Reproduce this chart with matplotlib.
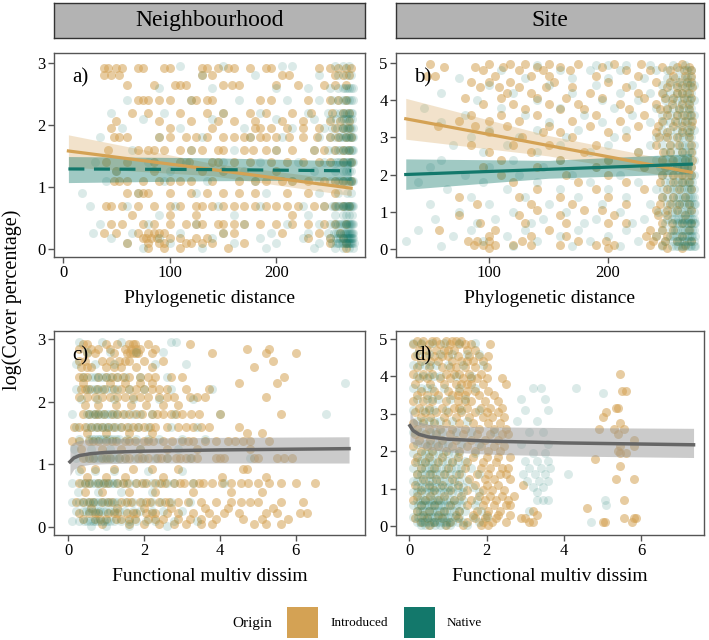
import numpy as np
import matplotlib
matplotlib.use("Agg")
import matplotlib.pyplot as plt
from matplotlib.patches import Rectangle

plt.rcParams['font.family'] = ['Liberation Serif', 'DejaVu Serif']

INTRO = '#D4A254'
NATIVE = '#13786B'
GREY_LINE = '#666666'

# ---- scatter data: (log cover, [x values]) rows ----
# panel a) neighbourhood, phylogenetic distance
a_intro_rows = [
    (2.92, [38, 42, 50, 55, 70, 75, 95, 100, 130, 135, 145, 155, 160, 175, 190, 195, 240, 250, 258, 265, 270]),
    (2.8, [38, 45, 52, 130, 140, 205, 212, 255, 262, 268]),
    (2.65, [60, 85, 105, 110, 115, 150, 158, 165, 200, 220, 245, 255, 265]),
    (2.4, [70, 75, 80, 90, 100, 120, 125, 135, 140, 185, 195, 230, 250, 258, 265]),
    (2.2, [65, 80, 110, 135, 150, 175, 190, 215, 232, 252, 262, 268]),
    (2.07, [50, 90, 120, 145, 160, 180, 205, 225, 250, 260, 268]),
    (1.95, [45, 100, 140, 180, 185, 195, 210, 225, 240, 255, 262, 268]),
    (1.8, [48, 52, 60, 90, 100, 115, 125, 135, 150, 160, 170, 175, 185, 190, 200, 212, 225, 238, 250, 258, 265, 270]),
    (1.6, [42, 70, 80, 85, 95, 110, 120, 130, 145, 150, 170, 178, 190, 200, 215, 235, 245, 255, 262, 268]),
    (1.4, [40, 60, 85, 110, 118, 140, 145, 160, 175, 195, 210, 225, 240, 250, 262, 270]),
    (1.25, [50, 85, 130, 150, 200]),
    (1.1, [48, 52, 60, 75, 90, 100, 110, 120, 140, 165, 180, 190, 205, 215, 230, 245, 255, 262, 270]),
    (0.9, [60, 70, 75, 80, 100, 120, 135, 150, 165, 180, 210, 230, 255]),
    (0.7, [40, 45, 55, 70, 85, 100, 110, 125, 130, 140, 150, 160, 170, 180, 190, 200, 210, 220, 235, 245, 255, 262, 268]),
    (0.55, [65, 100, 125, 215]),
    (0.4, [45, 55, 75, 85, 100, 115, 125, 130, 145, 150, 160, 170, 185, 200, 215, 230, 245, 255, 265]),
    (0.25, [38, 50, 70, 80, 85, 90, 95, 150, 160, 205, 240, 260]),
    (0.18, [75, 78, 82, 88, 100, 110, 125, 135, 230, 250, 262]),
    (0.1, [60, 80, 90, 95, 115, 120, 130, 140, 170, 250, 265]),
    (0.02, [80, 95, 110, 155, 265]),
]
a_native_rows = [
    (2.95, [110, 150, 205, 215, 255, 262, 268]),
    (2.8, [130, 180, 240, 258, 265, 270]),
    (2.6, [90, 140, 200, 230, 250, 258, 262, 266, 270, 264, 268, 272]),
    (2.4, [60, 120, 165, 210, 240, 252, 258, 262, 266, 270, 264, 268, 272]),
    (2.2, [45, 95, 150, 185, 230, 248, 255, 260, 264, 268, 271, 262, 266, 270]),
    (2.1, [75, 140, 200, 235, 250, 256, 261, 265, 269, 263, 267, 271]),
    (1.95, [55, 110, 170, 215, 245, 252, 257, 261, 264, 267, 270, 262, 266, 269, 272]),
    (1.8, [35, 90, 130, 175, 205, 240, 250, 255, 259, 262, 265, 268, 271, 260, 264, 267, 270, 272]),
    (1.6, [65, 120, 160, 200, 235, 248, 254, 258, 262, 265, 268, 271, 260, 264, 267, 270, 272]),
    (1.4, [30, 80, 115, 150, 185, 220, 245, 252, 256, 260, 263, 266, 268, 270, 272, 258, 262, 265, 269, 271]),
    (1.25, [50, 100, 170, 235, 255, 262, 268, 265, 270]),
    (1.1, [40, 95, 135, 180, 215, 240, 250, 255, 259, 262, 265, 268, 270, 272, 258, 261, 264, 267, 269, 271]),
    (0.9, [18, 70, 125, 190, 240, 258, 266, 270]),
    (0.7, [25, 60, 105, 145, 185, 225, 245, 252, 256, 259, 262, 264, 266, 268, 270, 272, 254, 258, 261, 263, 265, 267, 269, 271]),
    (0.55, [90, 160, 230, 255, 262, 268, 265, 271]),
    (0.4, [35, 80, 125, 170, 210, 240, 250, 254, 258, 261, 264, 266, 268, 270, 272, 256, 260, 263, 265, 267, 269, 271]),
    (0.25, [28, 65, 110, 150, 195, 230, 248, 254, 258, 261, 264, 266, 268, 270, 272, 256, 260, 263, 265, 267, 269, 271]),
    (0.18, [45, 90, 140, 185, 225, 250, 256, 260, 263, 266, 268, 270, 272, 258, 262, 265, 267, 269, 271]),
    (0.1, [60, 100, 160, 200, 240, 252, 256, 259, 262, 265, 267, 269, 271, 273, 258, 261, 264, 266, 268, 270]),
    (0.02, [75, 130, 190, 235, 255, 262, 268, 272]),
]

# panel b) site, phylogenetic distance
b_intro_rows = [
    (4.97, [50, 100, 118, 130, 150, 175, 205, 228, 262]),
    (4.88, [62, 88, 112, 140, 160, 195, 245, 258, 268]),
    (4.8, [95, 125, 145, 168, 215, 235, 252, 270, 264]),
    (4.65, [48, 55, 105, 135, 150, 190, 225, 255, 265, 270]),
    (4.5, [85, 100, 118, 155, 200, 240, 260, 270, 252, 266]),
    (4.35, [92, 108, 125, 148, 170, 215, 250, 265, 258, 271]),
    (4.2, [115, 135, 185, 225, 245, 258, 268, 262]),
    (4.05, [80, 110, 140, 165, 195, 230, 255, 270, 248, 264]),
    (3.9, [95, 120, 150, 175, 210, 240, 262, 254, 268]),
    (3.75, [130, 160, 180, 218, 250, 268, 244, 260]),
    (3.6, [85, 110, 140, 190, 230, 258, 270, 250, 264]),
    (3.45, [75, 100, 125, 170, 210, 245, 265, 256, 271]),
    (3.3, [57, 88, 115, 150, 185, 225, 255, 270, 242, 262]),
    (3.15, [100, 145, 160, 200, 240, 262, 250, 268]),
    (3.0, [128, 170, 215, 250, 268, 243, 258]),
    (2.8, [85, 120, 150, 190, 240, 260, 252, 270]),
    (2.6, [100, 135, 180, 225, 252, 270, 246, 262]),
    (2.4, [110, 160, 200, 245, 265, 255, 271]),
    (2.2, [95, 140, 190, 230, 258, 270, 248, 264]),
    (2.0, [110, 165, 200, 245, 262, 255, 270]),
    (1.8, [120, 175, 215, 255, 268, 244, 262]),
    (1.6, [140, 190, 230, 260, 270, 250]),
    (1.4, [75, 125, 160, 200, 245, 265, 255]),
    (1.2, [90, 135, 170, 215, 252, 268, 244, 260]),
    (1.05, [140, 180, 195, 240, 258, 270, 250]),
    (0.9, [75, 125, 160, 205, 250, 265, 242]),
    (0.7, [92, 130, 165, 200, 215, 245, 262, 270, 254]),
    (0.5, [58, 105, 150, 235, 255, 268, 245]),
    (0.35, [100, 135, 165, 240, 250, 262, 232]),
    (0.2, [82, 90, 100, 128, 175, 198, 238, 258, 270, 248]),
    (0.1, [87, 95, 105, 120, 135, 160, 190, 205, 245, 265, 235]),
    (0.02, [100, 200, 250, 262]),
]
b_native_rows = [
    (4.95, [140, 190, 200, 215, 235, 255, 265]),
    (4.8, [110, 160, 185, 210, 240, 260, 270, 250, 266]),
    (4.6, [75, 130, 170, 200, 230, 250, 262, 270, 256, 266]),
    (4.4, [100, 150, 190, 220, 245, 258, 266, 272, 252, 262, 269]),
    (4.2, [60, 120, 170, 210, 235, 252, 262, 270, 246, 258, 266]),
    (4.0, [90, 140, 195, 225, 248, 258, 266, 272, 254, 262, 269]),
    (3.8, [45, 110, 160, 205, 240, 255, 263, 270, 250, 260, 267]),
    (3.6, [80, 130, 180, 220, 245, 258, 266, 272, 252, 262, 269]),
    (3.4, [60, 150, 195, 235, 252, 262, 270, 246, 258, 266]),
    (3.2, [100, 140, 175, 215, 245, 258, 266, 272, 252, 262, 269]),
    (3.0, [85, 125, 165, 205, 240, 255, 263, 270, 248, 260, 267]),
    (2.8, [70, 115, 160, 200, 235, 252, 262, 268, 272, 245, 258, 265]),
    (2.6, [95, 140, 185, 225, 248, 258, 265, 271, 252, 262, 268]),
    (2.4, [60, 120, 160, 200, 240, 254, 262, 268, 272, 248, 258, 265]),
    (2.2, [50, 100, 145, 190, 230, 250, 258, 264, 270, 244, 254, 262, 267]),
    (2.0, [80, 125, 170, 210, 245, 255, 262, 268, 272, 250, 259, 265, 270]),
    (1.8, [40, 95, 140, 185, 225, 248, 256, 262, 267, 271, 252, 259, 264, 269]),
    (1.6, [65, 115, 160, 200, 240, 252, 258, 264, 268, 272, 246, 255, 261, 266, 270]),
    (1.4, [85, 130, 175, 215, 245, 255, 260, 265, 269, 272, 250, 258, 263, 267, 271]),
    (1.2, [50, 100, 150, 195, 235, 250, 257, 262, 266, 270, 273, 254, 260, 264, 268, 272]),
    (1.0, [75, 120, 165, 210, 242, 254, 259, 264, 268, 272, 248, 256, 262, 266, 270]),
    (0.8, [55, 105, 145, 190, 230, 250, 256, 261, 265, 269, 272, 254, 259, 263, 267, 271]),
    (0.7, [90, 135, 180, 220, 248, 255, 260, 264, 267, 270, 273, 258, 262, 266, 269, 272]),
    (0.5, [40, 85, 130, 175, 215, 245, 253, 258, 263, 267, 271, 256, 261, 265, 269, 272]),
    (0.35, [70, 115, 160, 200, 240, 252, 257, 262, 266, 270, 273, 255, 260, 264, 268, 271]),
    (0.2, [30, 95, 140, 185, 225, 248, 255, 260, 264, 268, 272, 258, 262, 266, 270]),
    (0.08, [60, 120, 170, 210, 245, 254, 259, 263, 267, 270, 273, 257, 261, 265, 269, 272]),
]

# panel c) neighbourhood, functional multivariate dissimilarity
c_intro_rows = [
    (2.93, [0.4, 0.5, 1.0, 1.3, 1.6, 1.7, 1.75, 2.1, 3.2]),
    (2.85, [0.3, 0.6, 0.8, 1.1, 1.5, 1.65, 1.8, 1.9, 2.3, 4.7, 5.3]),
    (2.78, [0.5, 0.7, 1.2, 1.55, 1.7, 1.85, 2.2, 3.8, 5.2, 6.0, 1.62, 1.78]),
    (2.65, [0.3, 0.45, 0.9, 1.35, 1.5, 2.0, 2.5, 5.4, 1.1, 1.6]),
    (2.55, [0.35, 0.6, 1.2, 1.4, 1.8, 2.2, 4.9, 0.5, 1.0]),
    (2.4, [0.3, 0.5, 0.8, 1.0, 1.3, 1.6, 2.1, 2.3, 2.7, 3.0, 5.7, 0.4, 1.15, 1.45, 1.9]),
    (2.3, [0.4, 1.1, 1.5, 1.9, 2.2, 4.5, 5.5]),
    (2.2, [0.35, 0.55, 0.75, 1.2, 1.4, 1.8, 2.0, 2.2, 2.6, 3.1, 3.7, 0.45, 0.95, 1.6, 2.4]),
    (2.08, [0.3, 0.5, 0.9, 1.1, 1.3, 1.7, 1.9, 2.4, 2.8, 3.2, 3.6, 5.2, 0.7, 1.5, 2.1, 2.6, 3.4]),
    (1.95, [0.45, 0.8, 1.25, 1.65, 2.05, 2.5, 2.9]),
    (1.8, [0.4, 0.55, 0.7, 0.95, 1.15, 1.45, 1.6, 1.95, 2.2, 2.5, 2.7, 3.0, 3.25, 3.45, 4.0, 5.6, 0.8, 1.3, 1.8, 2.35, 2.85]),
    (1.6, [0.15, 0.3, 0.6, 0.9, 1.2, 1.4, 1.7, 2.0, 2.3, 2.6, 2.9, 3.1, 3.3, 3.5, 3.7, 4.5, 0.45, 0.75, 1.05, 1.55, 1.85, 2.15]),
    (1.5, [0.5, 1.0, 1.6, 2.2, 4.7, 5.1]),
    (1.38, [0.1, 0.3, 0.55, 0.8, 1.0, 1.25, 1.5, 1.75, 2.0, 2.25, 2.5, 2.75, 3.0, 3.3, 3.6, 3.9, 4.2, 4.4, 4.6, 4.8, 5.3, 0.65, 1.15, 1.6, 2.1, 3.15]),
    (1.25, [0.35, 0.9, 1.4, 1.9, 2.6, 3.4, 4.8]),
    (1.1, [0.4, 0.65, 0.9, 1.1, 1.35, 1.6, 1.85, 2.1, 2.35, 2.6, 2.85, 3.1, 3.4, 3.9, 4.0, 4.1, 4.9, 5.0, 5.5, 5.7, 5.9, 0.55, 1.0, 1.5, 1.95, 2.45, 2.95, 3.25]),
    (0.92, [0.35, 0.7, 1.2, 1.7, 2.2, 2.9, 4.6, 4.7]),
    (0.8, [0.5, 1.0, 1.5, 2.5, 4.05, 5.2]),
    (0.7, [0.3, 0.55, 0.8, 1.05, 1.3, 1.55, 1.8, 2.05, 2.3, 2.55, 2.8, 3.05, 3.3, 3.55, 3.8, 4.05, 4.3, 4.55, 4.75, 5.0, 5.3, 5.6, 6.0, 6.5, 0.45, 0.95, 1.45, 1.95, 2.45, 2.95, 3.45]),
    (0.55, [0.45, 0.9, 1.6, 2.3, 3.3, 4.3, 5.1]),
    (0.4, [0.2, 0.4, 0.65, 0.9, 1.15, 1.4, 1.65, 1.9, 2.15, 2.4, 2.65, 2.9, 3.15, 3.5, 3.9, 4.3, 4.55, 4.8, 5.0, 5.6, 6.2, 0.55, 1.05, 1.55, 2.05, 2.55]),
    (0.3, [0.6, 1.3, 2.0, 2.7, 3.6, 4.2, 5.4]),
    (0.22, [0.3, 0.55, 0.8, 1.05, 1.3, 1.55, 1.8, 2.05, 2.3, 2.6, 2.9, 3.3, 3.7, 4.1, 4.5, 5.2, 5.5, 6.1, 6.3, 0.7, 1.2, 1.7, 2.2]),
    (0.12, [0.4, 0.7, 1.0, 1.4, 1.75, 2.1, 2.5, 2.9, 3.2, 3.5, 3.9, 4.6, 5.1, 5.8, 0.85, 1.25, 1.6, 2.3]),
    (0.04, [0.9, 1.6, 2.0, 2.4, 2.8, 3.1, 3.5, 3.8, 4.9, 5.2, 5.6]),
]
c_native_rows = [
    (2.95, [0.3, 0.9, 1.4, 2.7, 2.85]),
    (2.8, [0.5, 1.1, 1.8, 2.5]),
    (2.6, [0.2, 0.7, 1.2, 2.3, 3.1]),
    (2.4, [0.4, 0.7, 0.9, 1.1, 1.5, 2.6, 0.6, 0.8, 1.0, 1.3, 1.9]),
    (2.3, [7.3]),
    (2.2, [0.2, 0.6, 0.8, 1.0, 1.3, 2.0, 2.7, 3.8, 0.5, 0.7, 0.9, 1.15, 1.6]),
    (2.05, [0.35, 0.75, 1.2, 1.7, 2.4, 3.3]),
    (1.8, [0.1, 0.5, 0.65, 0.8, 0.95, 1.1, 1.3, 1.7, 2.2, 2.8, 4.0, 6.8, 0.55, 0.72, 0.88, 1.02, 1.2, 1.5, 1.9]),
    (1.6, [0.2, 0.5, 0.7, 0.9, 1.05, 1.25, 1.6, 2.1, 2.7, 3.4, 0.6, 0.8, 0.98, 1.15, 1.4, 1.85]),
    (1.4, [0.3, 0.55, 0.7, 0.85, 1.0, 1.15, 1.35, 1.8, 2.4, 3.0, 3.6, 0.62, 0.78, 0.92, 1.08, 1.25, 1.55, 2.1]),
    (1.25, [0.15, 0.6, 1.1, 1.9, 2.9]),
    (1.1, [0.2, 0.45, 0.65, 0.8, 0.95, 1.1, 1.25, 1.5, 2.0, 2.6, 3.2, 4.8, 0.55, 0.72, 0.88, 1.02, 1.18, 1.35, 1.75, 2.3]),
    (0.9, [0.3, 0.7, 1.2, 2.1, 3.0]),
    (0.7, [0.1, 0.35, 0.55, 0.7, 0.85, 1.0, 1.15, 1.3, 1.6, 2.0, 2.4, 2.8, 3.3, 4.1, 0.45, 0.62, 0.78, 0.92, 1.08, 1.22, 1.45, 1.8, 2.2, 2.6]),
    (0.55, [0.25, 0.8, 1.4, 2.2]),
    (0.4, [0.1, 0.3, 0.5, 0.65, 0.8, 0.95, 1.1, 1.3, 1.7, 2.2, 2.7, 3.2, 0.4, 0.58, 0.72, 0.88, 1.02, 1.2, 1.5, 1.95, 2.45]),
    (0.25, [0.2, 0.4, 0.55, 0.7, 0.85, 1.0, 1.2, 1.5, 1.9, 2.5, 3.0, 0.48, 0.62, 0.78, 0.92, 1.1, 1.35, 1.7, 2.2]),
    (0.1, [0.1, 0.3, 0.5, 0.65, 0.8, 0.95, 1.1, 1.4, 1.8, 2.3, 2.8, 3.4, 0.42, 0.58, 0.72, 0.88, 1.02, 1.2, 1.6, 2.05]),
    (0.02, [0.6, 1.0, 1.6, 2.6]),
]

# panel d) site, functional multivariate dissimilarity
d_intro_rows = [
    (4.95, [0.2, 0.35, 0.6, 0.95, 1.2, 1.35, 0.7, 1.1]),
    (4.85, [0.1, 0.3, 0.5, 0.8, 1.05, 1.45, 1.6, 2.1, 1.3]),
    (4.7, [0.25, 0.45, 0.7, 0.9, 1.15, 1.5, 1.7, 1.0]),
    (4.55, [0.15, 0.4, 0.65, 1.0, 1.25, 1.55, 1.8, 2.05, 0.85]),
    (4.4, [0.3, 0.55, 0.75, 1.1, 1.35, 1.65, 1.9, 1.5]),
    (4.25, [0.2, 0.5, 0.85, 1.2, 1.45, 1.7, 2.0, 1.05]),
    (4.05, [0.1, 0.35, 0.6, 0.95, 1.3, 1.55, 1.85, 5.45, 1.15]),
    (3.95, [0.25, 0.45, 0.8, 1.05, 1.4, 1.75, 2.0, 2.4, 1.6]),
    (3.8, [0.15, 0.55, 0.9, 1.2, 1.5, 1.6, 1.9, 2.5, 1.35]),
    (3.6, [0.3, 0.65, 1.0, 1.3, 1.7, 2.05, 5.5, 5.6, 1.5]),
    (3.5, [0.2, 0.45, 0.75, 1.1, 1.45, 1.8, 2.2, 1.25]),
    (3.35, [0.1, 0.35, 0.6, 0.95, 1.25, 1.6, 1.95, 2.3, 1.45]),
    (3.15, [0.25, 0.5, 0.85, 1.15, 1.5, 1.85, 2.1, 2.4, 5.4, 5.35, 1.3]),
    (3.05, [0.15, 0.4, 0.7, 1.0, 1.35, 1.7, 2.0, 2.3, 5.1]),
    (2.9, [0.3, 0.55, 0.9, 1.2, 1.55, 1.9, 2.15, 2.45, 5.0]),
    (2.75, [0.1, 0.35, 0.65, 0.95, 1.3, 1.65, 2.05, 2.35, 5.45]),
    (2.6, [0.2, 0.5, 0.8, 1.1, 1.45, 1.8, 2.2, 2.5, 5.55, 5.3, 4.9]),
    (2.45, [0.15, 0.4, 0.7, 1.05, 1.4, 1.75, 2.1, 2.4, 2.55, 5.4]),
    (2.3, [0.25, 0.55, 0.85, 1.2, 1.6, 1.95, 2.3, 5.8]),
    (2.15, [0.1, 0.45, 0.75, 1.1, 1.5, 1.85, 2.2, 2.45, 5.8, 5.45]),
    (2.0, [0.3, 0.6, 0.95, 1.3, 1.7, 2.05, 2.35, 5.4]),
    (1.95, [5.6, 5.45]),
    (1.85, [0.2, 0.5, 0.85, 1.25, 1.65, 2.0, 2.3, 2.6]),
    (1.8, [4.8]),
    (1.7, [0.15, 0.4, 0.75, 1.1, 1.5, 1.9, 2.25]),
    (1.6, [5.45]),
    (1.55, [0.3, 0.65, 1.0, 1.45, 1.85, 2.1, 2.4, 2.55]),
    (1.4, [0.2, 0.55, 0.9, 1.3, 1.75, 2.05, 2.35, 2.5]),
    (1.25, [0.35, 0.7, 1.1, 1.55, 1.95, 2.2, 2.6, 5.35, 5.8]),
    (1.1, [0.15, 0.5, 0.85, 1.25, 1.7, 2.0, 2.3, 2.95]),
    (0.95, [0.3, 0.65, 1.05, 1.5, 1.9, 2.15, 2.45]),
    (0.8, [0.2, 0.55, 0.9, 1.35, 1.8, 2.1, 2.4, 2.7]),
    (0.7, [0.1, 0.4, 0.75, 1.15, 1.6, 1.95, 2.25, 2.55, 5.55]),
    (0.55, [0.3, 0.65, 1.05, 1.5, 1.9, 2.2, 2.5, 2.6]),
    (0.47, [4.6]),
    (0.4, [0.2, 0.5, 0.9, 1.3, 1.75, 2.05, 2.35, 3.2]),
    (0.3, [0.35, 0.75, 1.2, 1.65, 2.0, 2.3, 2.6, 3.3]),
    (0.22, [0.15, 0.45, 0.85, 1.25, 1.7, 1.95, 2.25, 2.9, 3.0, 5.55, 5.8, 5.85]),
    (0.1, [0.3, 0.65, 1.05, 1.5, 1.9, 2.15, 2.5, 3.1, 3.2, 5.0, 5.05, 5.75]),
    (0.03, [0.5, 0.95, 1.4, 1.85, 2.05]),
]
d_native_rows = [
    (4.9, [0.1, 0.3, 0.6, 0.9, 1.3, 1.7]),
    (4.6, [0.2, 0.5, 0.8, 1.1, 1.5, 1.8]),
    (4.3, [0.1, 0.4, 0.7, 1.0, 1.4, 1.9, 0.25, 0.55]),
    (4.0, [0.2, 0.5, 0.8, 1.2, 1.6, 0.35, 0.65]),
    (3.7, [0.1, 0.3, 0.6, 0.9, 1.3, 1.7, 3.2, 3.4, 4.3, 0.45]),
    (3.55, [5.0]),
    (3.4, [0.2, 0.45, 0.75, 1.05, 1.45, 2.9, 3.5, 0.6]),
    (3.1, [0.1, 0.35, 0.65, 0.95, 1.35, 1.8, 3.0, 3.6, 0.5]),
    (2.8, [0.2, 0.5, 0.8, 1.1, 1.5, 2.8, 3.3, 0.35, 0.65]),
    (2.5, [0.1, 0.3, 0.55, 0.85, 1.2, 1.6, 2.2, 3.1, 3.45, 0.7]),
    (2.2, [0.2, 0.4, 0.7, 1.0, 1.35, 1.8, 2.9, 3.6, 0.55, 0.85]),
    (1.95, [0.1, 0.3, 0.5, 0.75, 1.0, 1.3, 1.7, 3.2, 3.5, 0.4, 0.62, 0.88, 1.15]),
    (1.75, [0.2, 0.4, 0.6, 0.85, 1.1, 1.45, 3.0, 3.3, 3.6, 0.3, 0.5, 0.72, 0.98, 1.25]),
    (1.55, [0.1, 0.3, 0.5, 0.7, 0.95, 1.2, 1.6, 3.1, 3.4, 3.65, 0.4, 0.6, 0.82, 1.08, 1.35]),
    (1.4, [0.2, 0.4, 0.6, 0.8, 1.05, 1.35, 1.8, 2.95, 3.25, 3.5, 4.1, 0.3, 0.5, 0.7, 0.92, 1.2]),
    (1.2, [0.1, 0.3, 0.5, 0.7, 0.9, 1.15, 1.5, 3.05, 3.35, 3.6, 0.2, 0.4, 0.6, 0.8, 1.02, 1.3]),
    (1.05, [0.2, 0.4, 0.6, 0.8, 1.0, 1.25, 1.65, 3.2, 3.45, 0.3, 0.5, 0.7, 0.9, 1.12, 1.4]),
    (0.9, [0.1, 0.3, 0.5, 0.7, 0.9, 1.1, 1.4, 1.8, 3.3, 0.2, 0.4, 0.6, 0.8, 1.0, 1.25]),
    (0.7, [0.2, 0.35, 0.5, 0.65, 0.8, 0.95, 1.15, 1.4, 1.75, 3.3, 3.45, 3.6, 5.05, 0.28, 0.42, 0.58, 0.72, 0.88, 1.05, 1.28]),
    (0.55, [0.1, 0.3, 0.45, 0.6, 0.75, 0.9, 1.1, 1.35, 1.7, 5.1, 0.22, 0.38, 0.52, 0.68, 0.82, 1.0, 1.22]),
    (0.4, [0.2, 0.35, 0.5, 0.65, 0.8, 0.95, 1.15, 1.45, 1.85, 3.1, 0.28, 0.42, 0.58, 0.72, 0.88, 1.05, 1.3]),
    (0.25, [0.1, 0.3, 0.45, 0.6, 0.75, 0.9, 1.05, 1.3, 1.65, 2.0, 0.22, 0.38, 0.52, 0.68, 0.82, 0.98, 1.18]),
    (0.12, [0.2, 0.35, 0.5, 0.65, 0.8, 0.95, 1.1, 1.4, 1.8, 4.7, 0.28, 0.42, 0.58, 0.72, 0.88, 1.02, 1.25]),
    (0.03, [0.3, 0.55, 0.8, 1.05, 1.5, 0.42, 0.68, 0.92]),
]

# ---- fitted model lines and confidence bands ----
a_fit_x = [5, 140, 270]
a_intro_fit, a_intro_lo, a_intro_hi = [1.58, 1.28, 0.98], [1.32, 1.18, 0.86], [1.84, 1.38, 1.10]
a_native_fit, a_native_lo, a_native_hi = [1.29, 1.28, 1.26], [1.07, 1.10, 1.11], [1.49, 1.47, 1.42]

b_fit_x = [30, 150, 270]
b_intro_fit, b_intro_lo, b_intro_hi = [3.50, 2.78, 2.06], [2.95, 2.50, 1.85], [4.05, 3.05, 2.28]
b_native_fit, b_native_lo, b_native_hi = [2.00, 2.14, 2.28], [1.60, 1.90, 2.02], [2.42, 2.38, 2.56]

c_fit_x = [0.05, 0.15, 0.3, 0.6, 1.0, 2.0, 4.0, 7.4]
c_fit = [1.04, 1.10, 1.14, 1.17, 1.19, 1.21, 1.23, 1.25]
c_lo = [0.82, 0.92, 0.97, 1.00, 1.01, 1.02, 1.02, 1.02]
c_hi = [1.30, 1.35, 1.38, 1.40, 1.41, 1.42, 1.43, 1.44]

d_fit_x = [0.02, 0.1, 0.25, 0.5, 1.0, 2.0, 4.0, 7.35]
d_fit = [2.68, 2.55, 2.45, 2.38, 2.32, 2.27, 2.22, 2.17]
d_lo = [2.25, 2.20, 2.12, 2.05, 1.98, 1.92, 1.87, 1.83]
d_hi = [3.10, 2.90, 2.78, 2.72, 2.68, 2.65, 2.63, 2.61]


def expand(rows):
    xs, ys = [], []
    for y, xlist in rows:
        xs += list(xlist)
        ys += [y] * len(xlist)
    return np.array(xs, dtype=float), np.array(ys, dtype=float)


def scatter(ax, intro_rows, native_rows):
    x, y = expand(intro_rows)
    ax.scatter(x, y, s=42, color=INTRO, alpha=0.55, linewidths=0, zorder=2)
    x, y = expand(native_rows)
    ax.scatter(x, y, s=42, color=NATIVE, alpha=0.15, linewidths=0, zorder=2)


def style(ax, xlim, ylim, xticks, yticks, xlabel, tag):
    ax.set_xlim(*xlim)
    ax.set_ylim(*ylim)
    ax.set_xticks(xticks)
    ax.set_yticks(yticks)
    for s in ax.spines.values():
        s.set_color('#555555')
        s.set_linewidth(1.0)
    ax.tick_params(colors='#555555', labelcolor='black', labelsize=12, length=4, width=1, pad=2)
    ax.set_xlabel(xlabel, fontsize=14, labelpad=6)
    ax.text(0.06, 0.88, tag, transform=ax.transAxes, fontsize=15, va='center', ha='left', zorder=5)


fig = plt.figure(figsize=(7.09, 6.40), dpi=100)
W, H = 709.0, 640.0


def box(x0, y0, x1, y1):
    return [x0 / W, 1 - y1 / H, (x1 - x0) / W, (y1 - y0) / H]


ax_a = fig.add_axes(box(54, 53, 365, 257))
ax_b = fig.add_axes(box(396, 53, 704, 257))
ax_c = fig.add_axes(box(54, 331, 365, 535))
ax_d = fig.add_axes(box(396, 331, 704, 535))

# a)
scatter(ax_a, a_intro_rows, a_native_rows)
ax_a.fill_between(a_fit_x, a_intro_lo, a_intro_hi, color=INTRO, alpha=0.3, lw=0, zorder=3)
ax_a.fill_between(a_fit_x, a_native_lo, a_native_hi, color=NATIVE, alpha=0.4, lw=0, zorder=3)
ax_a.plot(a_fit_x, a_intro_fit, color=INTRO, lw=2.3, zorder=4)
ax_a.plot(a_fit_x, a_native_fit, color=NATIVE, lw=2.3, ls=(0, (5, 3)), zorder=4)
style(ax_a, (-8.5, 283), (-0.13, 3.16), [0, 100, 200], [0, 1, 2, 3], 'Phylogenetic distance', 'a)')

# b)
scatter(ax_b, b_intro_rows, b_native_rows)
ax_b.fill_between(b_fit_x, b_intro_lo, b_intro_hi, color=INTRO, alpha=0.3, lw=0, zorder=3)
ax_b.fill_between(b_fit_x, b_native_lo, b_native_hi, color=NATIVE, alpha=0.4, lw=0, zorder=3)
ax_b.plot(b_fit_x, b_intro_fit, color=INTRO, lw=2.3, zorder=4)
ax_b.plot(b_fit_x, b_native_fit, color=NATIVE, lw=2.3, zorder=4)
style(ax_b, (21.8, 280.7), (-0.22, 5.27), [100, 200], [0, 1, 2, 3, 4, 5], 'Phylogenetic distance', 'b)')

# c)
scatter(ax_c, c_intro_rows, c_native_rows)
ax_c.fill_between(c_fit_x, c_lo, c_hi, color='#999999', alpha=0.5, lw=0, zorder=3)
ax_c.plot(c_fit_x, c_fit, color=GREY_LINE, lw=2.5, zorder=4)
style(ax_c, (-0.37, 7.82), (-0.13, 3.13), [0, 2, 4, 6], [0, 1, 2, 3], 'Functional multiv dissim', 'c)')

# d)
scatter(ax_d, d_intro_rows, d_native_rows)
ax_d.fill_between(d_fit_x, d_lo, d_hi, color='#999999', alpha=0.5, lw=0, zorder=3)
ax_d.plot(d_fit_x, d_fit, color=GREY_LINE, lw=2.5, zorder=4)
style(ax_d, (-0.34, 7.62), (-0.24, 5.21), [0, 2, 4, 6], [0, 1, 2, 3, 4, 5], 'Functional multiv dissim', 'd)')

# facet strips
for (x0, x1), label in [((54, 365), 'Neighbourhood'), ((396, 704), 'Site')]:
    sax = fig.add_axes(box(x0, 3, x1, 38))
    sax.set_facecolor('#B3B3B3')
    sax.set_xticks([])
    sax.set_yticks([])
    for s in sax.spines.values():
        s.set_color('#333333')
        s.set_linewidth(1.0)
    sax.text(0.5, 0.5, label, ha='center', va='center', fontsize=17, transform=sax.transAxes)

fig.text(12 / W, 1 - 300 / H, 'log(Cover percentage)', rotation=90, ha='center', va='center', fontsize=14.5)

# legend
fig.text(252 / W, 1 - 623 / H, 'Origin', ha='center', va='center', fontsize=11)
fig.patches.append(Rectangle((287 / W, 1 - 638 / H), 31 / W, 31 / H, transform=fig.transFigure,
                             facecolor=INTRO, edgecolor='none'))
fig.text(330 / W, 1 - 623 / H, 'Introduced', ha='left', va='center', fontsize=9.5)
fig.patches.append(Rectangle((404 / W, 1 - 638 / H), 31 / W, 31 / H, transform=fig.transFigure,
                             facecolor=NATIVE, edgecolor='none'))
fig.text(447 / W, 1 - 623 / H, 'Native', ha='left', va='center', fontsize=9.5)

fig.savefig('out.png', dpi=100)
